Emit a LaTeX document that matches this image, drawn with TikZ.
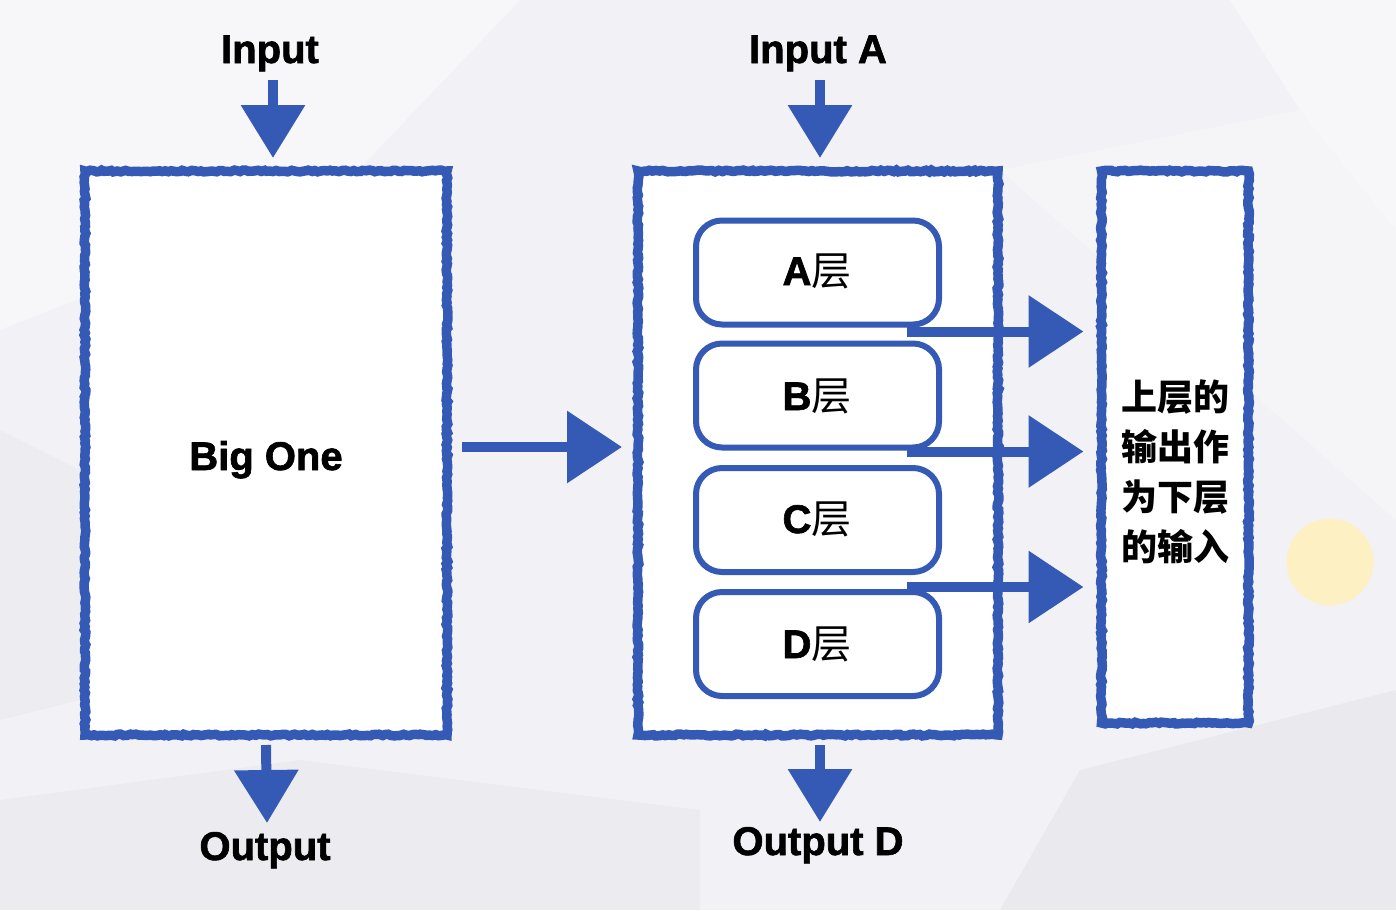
\documentclass[tikz,border=0pt]{standalone}
\usepackage{fontspec}
\setmainfont{Liberation Sans}[BoldFeatures={FakeBold=1.6}]
\newfontfamily\cjk{Noto Sans CJK SC}
\usetikzlibrary{arrows.meta,calc,decorations.pathmorphing}
\definecolor{pen}{RGB}{52,90,182}
\definecolor{bgc}{RGB}{242,242,246}
\definecolor{sun}{RGB}{253,240,194}
\begin{document}
\begin{tikzpicture}[x=1pt,y=-1pt,
  lbl/.style={font=\fontsize{40}{48}\selectfont\bfseries, anchor=base, inner sep=0pt},
  sketch/.style={decorate, decoration={random steps, segment length=3pt, amplitude=0.9pt}},
  bigbox/.style={draw=pen, fill=white, line width=9.5pt, inner sep=0pt, outer sep=0pt, sketch},
  layer/.style={draw=pen, fill=white, line width=6pt, rounded corners=26pt, inner sep=0pt, outer sep=0pt,
                minimum width=243pt, minimum height=104pt},
  harr/.style={draw=pen, line width=10pt, -{Triangle[length=55pt,width=70pt]}},
  darr/.style={draw=pen, line width=10pt, -{Triangle[length=53pt,width=62pt]}}]
\useasboundingbox (0,0) rectangle (1396,910);
% background
\fill[bgc] (0,0) rectangle (1396,910);
\fill[white,opacity=0.4] (0,0) -- (520,0) -- (330,200) -- (0,330) -- cycle;
\fill[white,opacity=0.4] (1230,0) -- (1396,0) -- (1396,230) -- (1300,110) -- cycle;
\fill[white,opacity=0.3] (1000,170) -- (1300,110) -- (1396,230) -- (1396,520) -- cycle;
\fill[black,opacity=0.025] (0,800) -- (300,760) -- (700,810) -- (700,910) -- (0,910) -- cycle;
\fill[black,opacity=0.03] (1000,910) -- (1080,770) -- (1396,690) -- (1396,910) -- cycle;
\fill[black,opacity=0.02] (0,430) -- (80,470) -- (80,700) -- (0,720) -- cycle;
\fill[sun] (1330,562) circle (43.5);
% boxes
\node[bigbox, minimum width=362pt, minimum height=564pt] (big) at (266,453) {};
\node[bigbox, minimum width=360pt, minimum height=564pt] (mid) at (818,453) {};
\node[bigbox, minimum width=147pt, minimum height=552pt] (side) at (1175,447) {};
\node[lbl] (bigT) at (266,470) {Big One};
% layers
\node[layer] (A) at (817.5,272.5) {};
\node[layer] (B) at (817.5,395.5) {};
\node[layer] (C) at (817.5,520) {};
\node[layer] (D) at (817.5,644) {};
\node[lbl] (AT) at (817,285) {A{\cjk\mdseries 层}};
\node[lbl] (BT) at (817,410) {B{\cjk\mdseries 层}};
\node[lbl] (CT) at (817,533) {C{\cjk\mdseries 层}};
\node[lbl] (DT) at (817,658) {D{\cjk\mdseries 层}};
\node[font=\cjk\bfseries\fontsize{36}{50}\selectfont, align=left, inner sep=0pt] (sideT) at (1175,472)
  {上层的\\输出作\\为下层\\的输入};
% labels
\node[lbl] (in1) at (270,63) {Input};
\node[lbl] (in2) at (818,63) {Input A};
\node[lbl] (out1) at (265,860) {Output};
\node[lbl] (out2) at (818,855) {Output D};
% arrows
\draw[darr] ($(in1.base)+(3,17)$) -- ($(big.north)+(7,-13)$);
\draw[darr] ($(in2.base)+(2,17)$) -- ($(mid.north)+(2,-13)$);
\draw[darr] ($(big.south)+(0,10)$) -- ($(out1.base)+(2,-37)$);
\draw[darr] ($(mid.south)+(2,10)$) -- ($(out2.base)+(2,-33)$);
\draw[harr] ($(big.east)+(15,-6)$) -- ($(mid.west)+(-16,-6)$);
\draw[harr] ($(A.south east)+(-32,7)$) coordinate (s1) -- ($(side.west |- s1)+(-18,0)$);
\draw[harr] ($(B.south east)+(-32,4)$) coordinate (s2) -- ($(side.west |- s2)+(-18,0)$);
\draw[harr] ($(C.south east)+(-32,15)$) coordinate (s3) -- ($(side.west |- s3)+(-18,0)$);
\end{tikzpicture}
\end{document}
